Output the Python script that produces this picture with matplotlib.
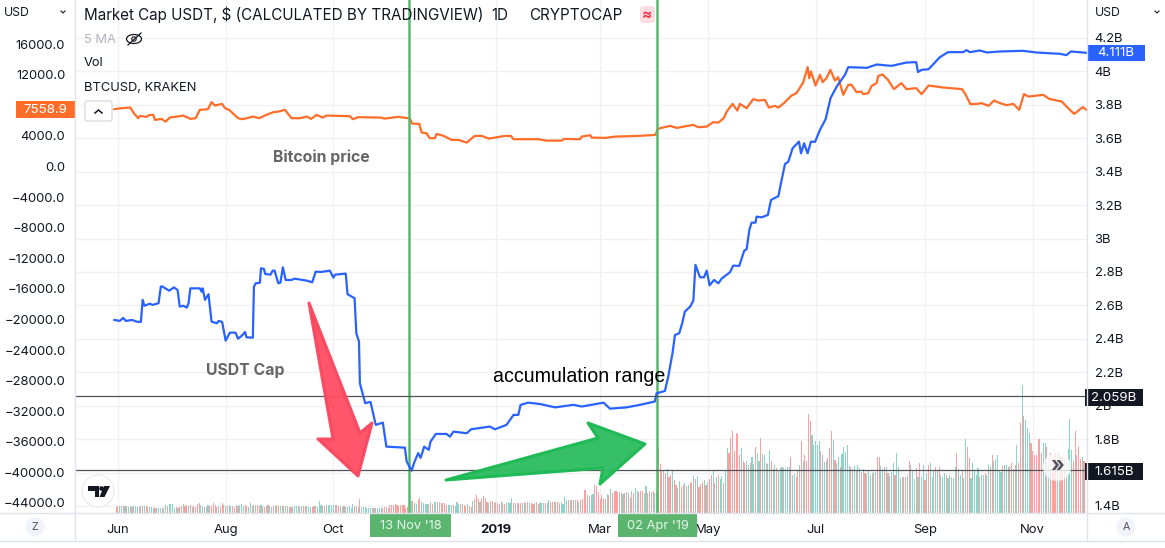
import matplotlib
matplotlib.use('Agg')
import matplotlib.pyplot as plt
from matplotlib.patches import Circle, FancyBboxPatch, Polygon, Ellipse, Rectangle
import numpy as np

plt.rcParams['font.family'] = ['Inter', 'DejaVu Sans']

# all x values are days counted from 1 Jun 2018
usdt_days = [-2, 1, 3, 4.5, 8, 10.5, 13, 14, 15, 18, 19.6, 23, 24.3, 25, 29, 31.7, 33.8, 35, 37, 39, 40, 41, 46.4, 47.4, 48, 49.3, 51.3, 53, 56, 57, 59, 61, 63.4, 66.6, 68, 70, 72, 72.8, 76.4, 77, 78, 80.4, 81, 82.7, 83.4, 86.4, 87.6, 88.7, 90.8, 92, 93.4, 95, 98.3, 100, 107, 110, 112, 115, 120, 122, 123, 129, 130, 134, 135, 136.5, 137, 140, 143, 146, 150, 152, 162.5, 163.5, 166.3, 167.7, 170, 171.4, 173.4, 176, 177, 180, 186, 188, 190, 197.5, 200, 210.6, 213.5, 220, 224, 226.7, 228, 232.3, 239, 247.5, 258, 262.6, 275, 278.6, 288, 295.6, 304, 305, 309.7, 311.6, 314, 315.4, 317.8, 319.5, 321, 324, 325.8, 327, 329.6, 331.8, 333.4, 335, 337.5, 340, 341.8, 346.5, 348.4, 351.8, 354.6, 356, 357.5, 358.8, 361, 361.6, 364.5, 368, 369.8, 374, 375, 377.7, 379.6, 382, 385.6, 386.8, 388.5, 390.5, 392.4, 394.7, 397.5, 400.7, 403.5, 407, 411.7, 413.5, 420, 424, 429.6, 438, 446.6, 452, 453, 455, 459, 465.4, 470, 478.6, 480.5, 482.4, 488, 492, 499.4, 512.5, 520, 533.4, 537, 539.6, 548.6]
usdt_cap = [2.513, 2.507, 2.525, 2.507, 2.513, 2.503, 2.501, 2.633, 2.598, 2.61, 2.603, 2.613, 2.712, 2.714, 2.688, 2.708, 2.692, 2.593, 2.598, 2.587, 2.613, 2.702, 2.702, 2.682, 2.702, 2.633, 2.667, 2.503, 2.493, 2.507, 2.501, 2.389, 2.437, 2.437, 2.401, 2.417, 2.441, 2.409, 2.407, 2.712, 2.732, 2.736, 2.822, 2.818, 2.788, 2.784, 2.808, 2.808, 2.732, 2.736, 2.828, 2.752, 2.752, 2.76, 2.748, 2.738, 2.802, 2.80, 2.808, 2.766, 2.784, 2.79, 2.667, 2.643, 2.433, 2.383, 2.134, 2.015, 2.023, 1.885, 1.899, 1.755, 1.749, 1.666, 1.611, 1.658, 1.716, 1.688, 1.755, 1.736, 1.785, 1.831, 1.831, 1.815, 1.845, 1.835, 1.859, 1.875, 1.859, 1.885, 1.945, 1.945, 2.005, 2.018, 2.01, 1.99, 2.005, 1.995, 2.018, 1.982, 1.99, 2.005, 2.025, 2.074, 2.088, 2.174, 2.314, 2.423, 2.433, 2.493, 2.563, 2.593, 2.628, 2.842, 2.768, 2.768, 2.808, 2.72, 2.752, 2.732, 2.76, 2.798, 2.838, 2.836, 2.927, 2.936, 3.051, 3.095, 3.095, 3.131, 3.127, 3.141, 3.231, 3.254, 3.31, 3.446, 3.46, 3.54, 3.58, 3.51, 3.57, 3.51, 3.58, 3.578, 3.65, 3.714, 3.84, 3.91, 3.98, 4.025, 4.023, 4.021, 4.041, 4.033, 4.053, 4.055, 3.996, 4.009, 4.013, 4.085, 4.115, 4.115, 4.127, 4.115, 4.125, 4.113, 4.119, 4.123, 4.113, 4.105, 4.097, 4.119, 4.111]

btc_days = [-2, 2, 7, 9, 11.5, 12.5, 16, 18, 20, 21, 24.7, 27, 29.4, 31, 37, 41, 44, 46.4, 51, 53, 55, 59, 60.6, 63, 68, 70.6, 76.6, 80, 84, 88, 90.8, 94.6, 98.3, 103, 107, 109.3, 112.5, 116, 118, 131.4, 133, 136, 149, 151, 158.7, 164.3, 165.3, 166.6, 170.6, 172, 174.7, 176.6, 179.5, 180.4, 184, 189, 192.7, 197.5, 202, 206, 210, 219, 222.5, 224, 238, 242.7, 251.2, 252.7, 261.6, 262.6, 267.4, 268.3, 276, 281.4, 294.6, 304.4, 305.6, 307, 312.6, 316.4, 325.8, 328.6, 333.4, 337, 340, 343, 344.7, 348, 350.7, 352.2, 356, 359.7, 362.5, 366.3, 368.6, 372, 374, 377.7, 381.4, 384.2, 388, 390.5, 391.4, 392.4, 395, 397.5, 399, 401.2, 403.4, 406, 407.8, 410.7, 413.5, 415.4, 418.2, 421, 422, 424.8, 426.8, 429.6, 430.5, 433, 436, 439.4, 443.6, 446.5, 452, 455, 459, 467.5, 478, 480, 482.7, 486.5, 489, 493, 496, 499.5, 503.2, 507, 510.3, 513, 515.5, 524, 527.3, 534.4, 539, 541.5, 546.3, 548.5]
btc_price = [7487, 7618, 7697, 6964, 6309, 6610, 6480, 6741, 6741, 6087, 6218, 5864, 6388, 6440, 6650, 6218, 6309, 7396, 7487, 8404, 7959, 8181, 7618, 7396, 6309, 6178, 6519, 6309, 6741, 7095, 7173, 7396, 6309, 6309, 6519, 6218, 6741, 6388, 6650, 6571, 6178, 6440, 6388, 6257, 6480, 6309, 6257, 5603, 5563, 4424, 4346, 3691, 3691, 4254, 4032, 3469, 3469, 3115, 3992, 3992, 3639, 3992, 3992, 3560, 3560, 3377, 3377, 3600, 3560, 3901, 4084, 3770, 3731, 3901, 3992, 4123, 4869, 5000, 5301, 5040, 5432, 5131, 5210, 5786, 5733, 6309, 7173, 8181, 7304, 8181, 7618, 8796, 8613, 8705, 7697, 7919, 7697, 8404, 9268, 9582, 10970, 12985, 11545, 12409, 10577, 11977, 11022, 11545, 12632, 11231, 11676, 9359, 10668, 10668, 9713, 9791, 9451, 9582, 10537, 10891, 11846, 12017, 11323, 10105, 10891, 10105, 10236, 9451, 10577, 10315, 10105, 9359, 8142, 8181, 8273, 7919, 8613, 8273, 8011, 8181, 7396, 9451, 9137, 9359, 8836, 8482, 7396, 6872, 7749, 7396]

# daily volume, pane units, negative = down day (red bar), starts on day -1
volume = [
    -6, -7, 7, 7.5, -7.5, 7.5, -7, 6.5, 7, -6.5, 7, 7, 6.5, -6.5, 7, -7, 7, -7.5, -6.5, 6.5,
    6, 5.5, -5.5, 5.5, 5, 5, -5.5, 5, 8.5, -7, 9.5, 9, 9.5, 5.5, -6, 5, -6.5, -7, 9, -7.5,
    -8, 7, -8.5, 6.5, -7, -6.5, -9.5, -10.5, 8.5, 7.5, -6.5, 6, 8.5, -7, -7, -10.5, -8, -6.5, 7, -6.5,
    -10.5, -8.5, 7, -7, 8, 7, -7.5, -6.5, 8, -7, 8.5, 9.5, 7, -8, -7.5, 6, 10.5, 7.5, -8, 8,
    -8.5, -7, 8, -7.5, -6.5, 7, -8, 7, 6.5, -7, 7.5, -8, -7, 7, 7, -7, 7.5, -7.5, 6.5, -6.5,
    6, 7.5, 7, -7, 6, 7, -7, -7, 7, 6.5, 6.5, -6, -7.5, 7, 6.5, 12.5, 8.5, -7, 7.5, -8.5,
    8.5, 8.5, 8.5, 8.5, -8, -8, -7, 7, 6.5, -7, 6, 6, 7, 5.5, 9.5, -7, 7.5, -6, -14.5, 6,
    6, 6, 5.5, 5, 5, 5, -5, 5, 5.5, 5.5, 5, -5.5, -6, 6, -5.5, -8, -8, -8, -9, -8, -7.5, -8.5, -8, -8, -5, -6,
    -8, 12, -12.5, 10, 9, -13, -15, 11.5, 10, 9.5,
    9, -9, 11, -9.5, 11.5, 11, -11, 11.5, -10.5, -10.5, -10, -8.5, 8.5, 8, 8, -8, 7.5, 11, 9.5, -9,
    9, -8.5, -7, 9, -7, -6.5, 12, -14, -18, -14,
    11, -14, -17, -15, -11.5, 10, -12, -12, -10.5, 11,
    -10, -9, 12, -10, -9.5, 10.5, 11, 10.5, 15, -10, -10.5, 10.5, -10, -10, 10.5, -11, 10.5, -11, 10, -10,
    -9.5, 10, -11, -9, 10.5, 10, 10.5, -10, 10.5, 13, -11, -11, 11.5, -11, -11, -10.5, 11, 9.5, 16.5, 13,
    -13.5, -13.5, 13.5, -13.5, 13.5, -13, 11.5, -13, -14, -23, -23, -18, 17, 18, 19, -28, -27, -21, -14, -18,
    -15, -14, 19, -18, 24, -20, -22, -22, -21, 21, -20, 19, -20, 21, -20, -15, 22, -20, 25, 22,
    -21, -22, -22, 20, 27, -20, -22, 21, -22, 20,
    22, -64, -49, -42, 42, -40, 44, -36, -38, 43,
    -33, -28, 25, 32, -26, -28, 30, -27, 28, -31,
    -30, 38, -34, 37, -26, -29, -31, 33, -28, 31,
    -34, -38, 42, -30, 36, -38, 34, 37, -30, 42,
    65, -60, -75, -82, -62, -80, -79, -58, 65, -52,
    -50, 52, 48, -50, 56, 49, -66, 60, 52, -75,
    59, 58, -50, 49, 63, -52, 44, 48, -45, 43,
    45, 46, -45, 44, 46, 46, -56, 38, 39, -36,
    -43, 48, -72, 52, -58, -52, -99, -92, 78, 68,
    72, 68, 72, -62, 58, 51, 52, -55, -65, -82,
    73, -53, 50, 56, -46, 59, 66, 61, 68, 47,
    -46, 44, 47, -42, 48, 45, -41, 44, -40, 39,
    42, 38, -40, 41, 41, -56, -56, 47, 44, -46,
    46, -40, 37, 41, 50, -38, 60, 46, 35, -36,
    36, -36, 38, -52, 48, 42, 34, -45, 36, -50,
    36, 48, -33, 40, -48, 50, 36, 42, -46, 42,
    -46, 38, 36, 40, -38, 35, 38, -36, 35, 46,
    -60, 44, 38, -42, 35, 74, -66, -55, 35, 50,
    42, 38, 45, -36, 38, 38, -40, 38, 48, -46,
    -58, 52, 54, 58, 42, 41, -47, 48, 48, -46,
    47, -50, 44, -48, 68, -50, -90, 128, -97, 93,
    85, 80, -70, -62, -58, -58, -74, -74, -60, 70,
    70, -66, 55, -60, -50, -58, -60, -60, 60, -56,
    -58, -55, 50, 64, 94, 63, -52, -82, -58, -67,
    -54, 56, -52,
]

month_days = [0, 61, 122, 214, 273, 334, 395, 457, 518]
month_labels = ['Jun', 'Aug', 'Oct', '2019', 'Mar', 'May', 'Jul', 'Sep', 'Nov']
btc_ticks = [16000, 12000, 8000, 4000, 0, -4000, -8000, -12000, -16000, -20000, -24000, -28000, -32000, -36000, -40000, -44000]
usdt_ticks = [4.2, 4.0, 3.8, 3.6, 3.4, 3.2, 3.0, 2.8, 2.6, 2.4, 2.2, 2.0, 1.8, 1.6, 1.4]
# 8000 and 1.6B sit fully behind the value tags in the reference
usdt_tick_labels = ['4.2B', '4B', '3.8B', '3.6B', '3.4B', '3.2B', '3B', '2.8B', '2.6B', '2.4B', '2.2B', '2B', '1.8B', '', '1.4B']
marked_days = [165, 305]
marked_levels = [2.059, 1.615]

BLUE = '#2962ff'
ORANGE = '#ff6d29'
GREEN = '#5bb56f'
GRID = '#f0f1f4'
BORDER = '#e0e3eb'
TEXT = '#131722'

W, H = 1165, 548
fig = plt.figure(figsize=(W / 100, H / 100), dpi=100, facecolor='white')
box = [75 / W, (H - 513) / H, 1012 / W, 513 / H]
xlim = (-24.3, 548.7)
usdt_lim = (1.358, 4.427)
btc_lim = (-45309, 21761)

# grid sits at the back and follows the right scale
ax_grid = fig.add_axes(box, zorder=0)
ax_grid.set_xlim(xlim)
ax_grid.set_ylim(usdt_lim)
ax_grid.set_xticks(month_days)
ax_grid.set_xticklabels(month_labels, fontsize=9.4, color=TEXT)
ax_grid.get_xticklabels()[3].set_fontweight('bold')
ax_grid.set_yticks(usdt_ticks)
ax_grid.set_yticklabels([])
ax_grid.grid(True, color=GRID, lw=1)
ax_grid.tick_params(length=0, axis='both')
ax_grid.tick_params(axis='x', pad=8)
ax_grid.set_axisbelow(True)

ax_vol = fig.add_axes(box, zorder=1, facecolor='none')
vol = np.array(volume)
vol_x = np.arange(len(vol)) - 1
ax_vol.bar(vol_x, np.abs(vol), width=0.62, color=np.where(vol > 0, '#8dd3c7', '#faa1a0'), linewidth=0)
ax_vol.set_xlim(xlim)
ax_vol.set_ylim(0, 513)
ax_vol.axis('off')

ax_btc = fig.add_axes(box, zorder=2, facecolor='none')
ax_btc.plot(btc_days, btc_price, color=ORANGE, lw=1.6, solid_joinstyle='round')
ax_btc.set_xlim(xlim)
ax_btc.set_ylim(btc_lim)
ax_btc.set_yticks(btc_ticks)
ax_btc.set_yticklabels(['' if t == 8000 else '%.1f' % t if t >= 0 else '\u2212%.1f' % -t for t in btc_ticks],
                       fontsize=9.4, color=TEXT)
ax_btc.tick_params(axis='y', length=0, pad=7)
ax_btc.set_xticks([])
for d in marked_days:
    ax_btc.axvline(d, color=GREEN, lw=1.8)

ax_usdt = fig.add_axes(box, zorder=3, facecolor='none')
ax_usdt.plot(usdt_days, usdt_cap, color=BLUE, lw=1.6, solid_joinstyle='round')
for level in marked_levels:
    ax_usdt.axhline(level, color='#50535e', lw=0.9)
ax_usdt.set_xlim(xlim)
ax_usdt.set_ylim(usdt_lim)
ax_usdt.yaxis.tick_right()
ax_usdt.set_yticks(usdt_ticks)
ax_usdt.set_yticklabels(usdt_tick_labels, fontsize=9.4, color=TEXT)
ax_usdt.tick_params(axis='y', length=0, pad=5.5)
ax_usdt.set_xticks([])

for a in (ax_grid, ax_btc, ax_usdt):
    for s in a.spines.values():
        s.set_visible(False)

# everything from here on is the trading view chrome, placed in pixels
top = fig.add_axes([0, 0, 1, 1], zorder=5, facecolor='none')
top.set_xlim(0, W)
top.set_ylim(H, 0)
top.axis('off')

top.plot([75, 75], [0, 541], color=BORDER, lw=1)
top.plot([1087, 1087], [0, 541], color=BORDER, lw=1)
top.plot([0, 1165], [513, 513], color=BORDER, lw=1)
top.plot([0, 1165], [541, 541], color=BORDER, lw=1)


def value_tag(x0, x1, y0, y1, label, fc, tc='white'):
    top.add_patch(Rectangle((x0, y0), x1 - x0, y1 - y0, fc=fc, ec='none'))
    top.text((x0 + x1) / 2, (y0 + y1) / 2 + 0.5, label, color=tc, fontsize=9.6, ha='center', va='center')


value_tag(16, 75, 101, 118, '7558.9', '#ff6d29')
value_tag(1087, 1145, 45, 61, '4.111B', BLUE)
value_tag(1085, 1143, 389, 406, '2.059B', '#131722')
value_tag(1085, 1143, 463, 480, '1.615B', '#131722')

for x0, x1, label in [(370, 451, "13 Nov '18"), (618, 697, "02 Apr '19")]:
    top.add_patch(Rectangle((x0, 514), x1 - x0, 23, fc=GREEN, ec='none'))
    top.text((x0 + x1) / 2, 526, label, color='#e8f5ea', fontsize=9.3, ha='center', va='center')

top.text(4, 13, 'USD', fontsize=8.8, color=TEXT, va='center')
top.text(1095, 13, 'USD', fontsize=8.8, color=TEXT, va='center')
for cx in (63, 1157):
    top.plot([cx - 2, cx, cx + 2], [11, 13, 11], color=TEXT, lw=0.8)

top.text(84, 15, 'Market Cap USDT, $ (CALCULATED BY TRADINGVIEW)', fontsize=10.95, color=TEXT, va='center')
top.text(491, 15, '1D', fontsize=10.95, color=TEXT, va='center')
top.text(529, 15, 'CRYPTOCAP', fontsize=10.95, color=TEXT, va='center')
top.add_patch(FancyBboxPatch((640, 6), 15, 17, boxstyle='round,pad=0,rounding_size=3', fc='#fbdde3', ec='none'))
top.text(647.5, 14.5, '\u2248', fontsize=11, color='#f23645', ha='center', va='center', fontweight='bold')

top.text(84, 40, '5 MA', fontsize=9.3, color='#b2b5be', va='center')
top.add_patch(Ellipse((134, 39), 15, 9, fc='none', ec=TEXT, lw=0.9))
top.add_patch(Circle((134, 39), 2.2, fc='none', ec=TEXT, lw=0.8))
top.plot([128, 141], [45, 33], color=TEXT, lw=0.9)
top.text(84, 63, 'Vol', fontsize=9.3, color=TEXT, va='center')
top.text(84, 88, 'BTCUSD, KRAKEN', fontsize=9.3, color=TEXT, va='center')
top.add_patch(FancyBboxPatch((85, 101), 27, 20, boxstyle='round,pad=0,rounding_size=2', fc='white', ec='#d1d4dc', lw=0.8))
top.plot([95, 98.5, 102], [113, 110, 113], color=TEXT, lw=1.1)

top.text(321.5, 157, 'Bitcoin price', fontsize=11.4, color='#666666', fontweight='bold', ha='center', va='center')
top.text(245, 371, 'USDT Cap', fontsize=11.4, color='#666666', fontweight='bold', ha='center', va='center')
top.text(579.5, 376, 'accumulation range', fontsize=14.1, color='black', ha='center', va='center', family='Liberation Sans')

# hand drawn arrows
top.add_patch(Polygon([(309, 303), (360, 433), (372, 423), (358, 476), (318, 439), (333, 439)], closed=True,
                      fc='#ff4d63', ec='#f8475f', lw=2.2, joinstyle='round', alpha=0.95))
top.add_patch(Polygon([(446, 480), (598, 438), (588, 423), (645, 444), (600, 484), (603, 468)], closed=True,
                      fc='#2fbd62', ec='#1db954', lw=2.2, joinstyle='round', alpha=0.97))

# logo and small round buttons
top.add_patch(Circle((98, 491), 16, fc='white', ec='#eceef2', lw=1))
top.add_patch(Polygon([(88, 486), (99, 486), (99, 497), (94.5, 497), (94.5, 490.5), (88, 490.5)], fc='#131722', ec='none'))
top.add_patch(Circle((101.5, 488.5), 2.3, fc='#131722', ec='none'))
top.add_patch(Polygon([(104, 486), (110, 486), (104.5, 497), (99.5, 497)], fc='#131722', ec='none'))

top.add_patch(Circle((1057, 467), 14, fc='white', ec='none', alpha=0.8))
top.text(1057, 466, '\u00bb', fontsize=15, color='#50535e', ha='center', va='center', fontweight='bold')
for cx, label in [(35, 'Z'), (1126, 'A')]:
    top.add_patch(Circle((cx, 527), 9.5, fc='#f0f3fa', ec='none'))
    top.text(cx, 527, label, fontsize=7.6, color='#50535e', ha='center', va='center')

fig.savefig('out.png', dpi=100)
